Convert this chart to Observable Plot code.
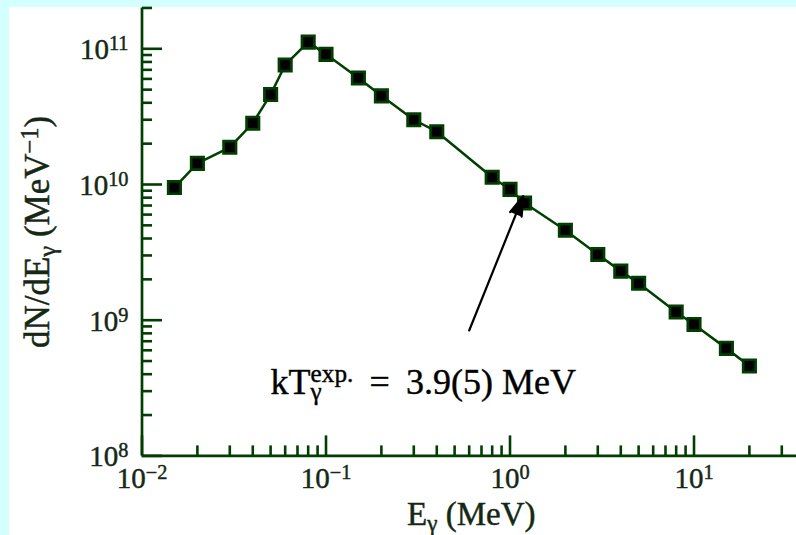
<!DOCTYPE html>
<html>
<head>
<meta charset="utf-8">
<script src="https://cdn.jsdelivr.net/npm/d3@7"></script>
<script src="https://cdn.jsdelivr.net/npm/@observablehq/plot@0.6"></script>
<style>
  html, body { margin: 0; padding: 0; background: #d4ffff; }
  #chart { position: absolute; left: 9px; top: 7px; width: 787px; height: 528px; background: white; }
  #chart svg { display: block; }
  #chart text { paint-order: stroke; stroke-width: 0.45px; stroke: currentColor; }
</style>
</head>
<body>
<div id="chart"></div>
<script>
// ---- data ----
const energy = [0.015, 0.02, 0.03, 0.04, 0.05, 0.06, 0.08, 0.1, 0.15, 0.2, 0.3, 0.4,
                0.8, 1.0, 1.2, 2, 3, 4, 5, 8, 10, 15, 20];
const counts = [9.5e9, 1.43e10, 1.88e10, 2.83e10, 4.6e10, 7.6e10, 1.12e11, 9.1e10, 6.1e10, 4.5e10, 3.0e10, 2.45e10,
                1.13e10, 9.2e9, 7.3e9, 4.6e9, 3.05e9, 2.3e9, 1.87e9, 1.15e9, 9.3e8, 6.2e8, 4.6e8];

const xMajor = [0.01, 0.1, 1, 10];
const xMinor = [0.02, 0.03, 0.04, 0.05, 0.06, 0.07, 0.08, 0.09,
                0.2, 0.3, 0.4, 0.5, 0.6, 0.7, 0.8, 0.9,
                2, 3, 4, 5, 6, 7, 8, 9, 20, 30];
const xTickLabels = ["10^{\u22122}", "10^{\u22121}", "10^{0}", "10^{1}"];
const yMajor = [1e8, 1e9, 1e10, 1e11];
const yMinor = [2e8, 3e8, 4e8, 5e8, 6e8, 7e8, 8e8, 9e8,
                2e9, 3e9, 4e9, 5e9, 6e9, 7e9, 8e9, 9e9,
                2e10, 3e10, 4e10, 5e10, 6e10, 7e10, 8e10, 9e10, 2e11];
const yTickLabels = ["10^{8}", "10^{9}", "10^{10}", "10^{11}"];

const xLabel = "E_{\u03b3} (MeV)";
const yLabel = "dN/dE_{\u03b3} (MeV^{\u22121})";

const annotationText = ["kT_{\u03b3}^{exp.} \u2009=\u2009 3.9(5) MeV"];
const annotationX = [0.05];
const annotationY = [3.5e8];

const arrowFromX = [0.6];
const arrowFromY = [8.4e8];
const arrowToX = [1.18];
const arrowToY = [8.2e9];

const xDomain = [0.01, 36.06];
const yDomain = [1e8, 2e11];

// ---- layout ----
const W = 787, H = 528;
const mL = 132.5, mR = 0, mT = 0.45, mB = 79.6;
const plotH = H - mT - mB;
const green = "#003f00";
const textColor = "#142814";

const points = energy.map((e, i) => ({e, n: counts[i]}));
const annotations = annotationText.map((t, i) => ({t, x: annotationX[i], y: annotationY[i]}));
const arrows = arrowFromX.map((x, i) => ({x1: x, y1: arrowFromY[i], x2: arrowToX[i], y2: arrowToY[i]}));

// inward tick glyphs (drawn from the axis into the frame)
const tickRight = len => ({draw(ctx) { ctx.moveTo(0, 0); ctx.lineTo(len, 0); }});

const chart = Plot.plot({
  width: W, height: H,
  marginLeft: mL, marginRight: mR, marginTop: mT, marginBottom: mB,
  style: {background: "white", fontFamily: "'Liberation Serif', serif", color: textColor, overflow: "visible"},
  x: {type: "log", domain: xDomain, axis: null},
  y: {type: "log", domain: yDomain, axis: null},
  marks: [
    // axis lines
    Plot.ruleX([xDomain[0]], {x: d => d, y1: yDomain[1], y2: yDomain[0], stroke: green, strokeWidth: 2.7}),
    Plot.ruleY([yDomain[0]], {y: d => d, x1: xDomain[0], x2: xDomain[1], stroke: green, strokeWidth: 2.7}),
    // inward ticks
    Plot.ruleX(xMajor, {x: d => d, y1: yDomain[1], y2: yDomain[0], insetTop: plotH - 20, stroke: green, strokeWidth: 2.6}),
    Plot.ruleX(xMinor, {x: d => d, y1: yDomain[1], y2: yDomain[0], insetTop: plotH - 10, stroke: green, strokeWidth: 2.6}),
    Plot.dot(yMajor, {x: xDomain[0], y: d => d, symbol: tickRight(20), fill: "none", stroke: green, strokeWidth: 2.6}),
    Plot.dot(yMinor, {x: xDomain[0], y: d => d, symbol: tickRight(10), fill: "none", stroke: green, strokeWidth: 2.6}),
    // tick labels
    Plot.text(yMajor, {x: xDomain[0], y: d => d, text: (d, i) => yTickLabels[i], textAnchor: "end", lineAnchor: "middle", dx: -13.5, dy: 1.2, fontSize: 29, fill: textColor}),
    Plot.text(xMajor, {x: d => d, y: yDomain[0], text: (d, i) => xTickLabels[i], textAnchor: "middle", lineAnchor: "middle", dy: 23.3, fontSize: 29, fill: textColor}),
    // axis titles
    Plot.text([xLabel], {text: d => d, frameAnchor: "bottom", textAnchor: "middle", lineAnchor: "middle", dx: 2, dy: 59, fontSize: 33, fill: textColor}),
    Plot.text([yLabel], {text: d => d, frameAnchor: "left", rotate: -90, textAnchor: "middle", lineAnchor: "middle", dx: -104, fontSize: 35, fill: textColor}),
    // data
    Plot.line(points, {x: "e", y: "n", stroke: green, strokeWidth: 2.5}),
    Plot.dot(points, {x: "e", y: "n", symbol: "square", r: 7, fill: "black", stroke: green, strokeWidth: 2.7}),
    // annotation
    Plot.arrow(arrows, {x1: "x1", y1: "y1", x2: "x2", y2: "y2", stroke: "black", fill: "black", strokeWidth: 2.2, headLength: 14, headAngle: 35}),
    Plot.text(annotations, {x: "x", y: "y", text: "t", textAnchor: "start", lineAnchor: "middle", fontSize: 36, fill: "#000"})
  ]
});

document.getElementById("chart").appendChild(chart);

// ---- turn ^{..} and _{..} into real superscript / subscript tspans ----
const SUP = 0.31, SUB = 0.18, SCRIPT = 0.7;
const ns = "http://www.w3.org/2000/svg";
d3.select(chart).selectAll("text").each(function () {
  const el = this;
  const raw = el.textContent;
  if (!/[\^_]\{/.test(raw)) return;
  const fs = parseFloat(getComputedStyle(el).fontSize) || 16;
  const parts = raw.split(/([\^_]\{[^}]*\})/).filter(s => s.length);
  while (el.firstChild) el.removeChild(el.firstChild);
  let cur = 0, prevSub = null;
  for (const p of parts) {
    let kind = "n", s = p;
    if (p.startsWith("^{")) { kind = "sup"; s = p.slice(2, -1); }
    else if (p.startsWith("_{")) { kind = "sub"; s = p.slice(2, -1); }
    const target = kind === "sup" ? -SUP * fs : kind === "sub" ? SUB * fs : 0;
    const t = document.createElementNS(ns, "tspan");
    t.textContent = s;
    if (kind !== "n") t.setAttribute("font-size", SCRIPT * fs);
    t.setAttribute("dy", target - cur);
    cur = target;
    el.appendChild(t);
    if (kind === "sup" && prevSub) t.setAttribute("dx", -prevSub.getComputedTextLength());
    prevSub = kind === "sub" ? t : null;
  }
});
</script>
</body>
</html>
